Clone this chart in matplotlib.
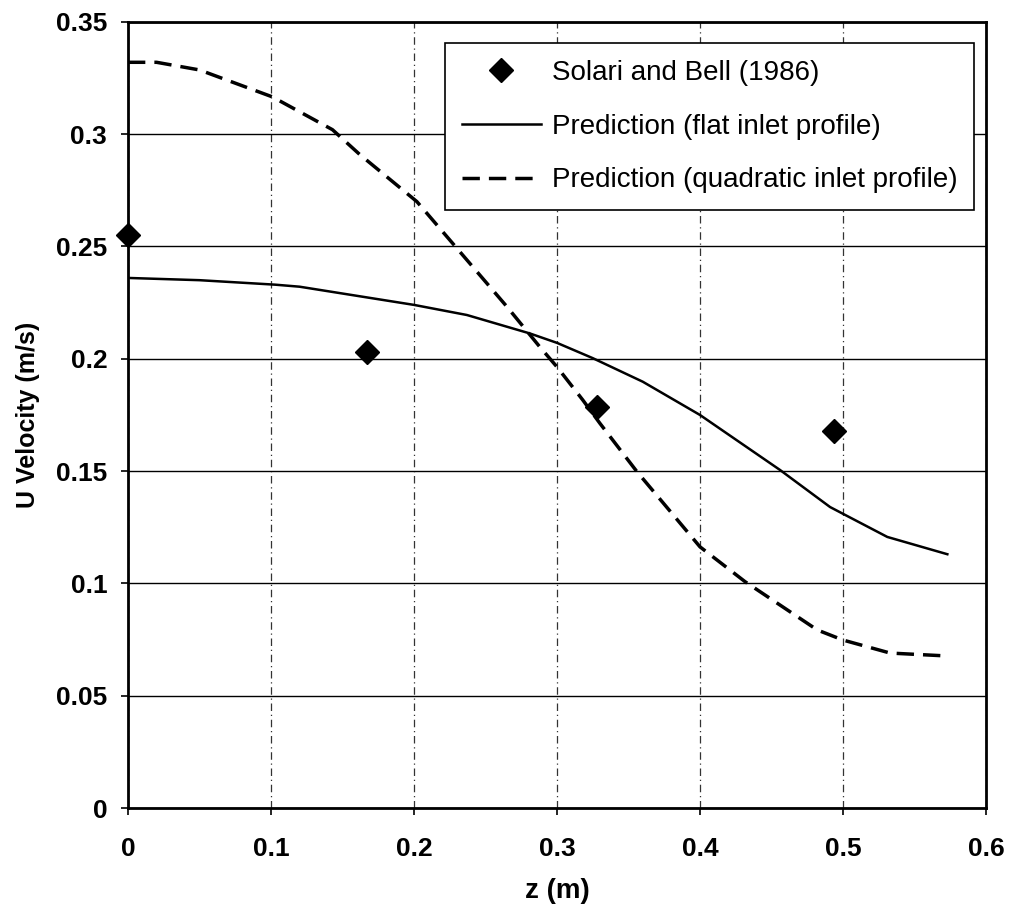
import numpy as np
import matplotlib
matplotlib.use("Agg")
import matplotlib.pyplot as plt

plt.rcParams["font.family"] = ["Liberation Sans", "DejaVu Sans"]

# measured velocities (Solari and Bell, 1986)
z_exp = [0.0, 0.167, 0.328, 0.494]
u_exp = [0.255, 0.203, 0.1785, 0.168]

# prediction with flat inlet profile
z_flat = [0.0, 0.05, 0.103, 0.12, 0.20, 0.237, 0.281, 0.30, 0.325, 0.36,
          0.40, 0.456, 0.491, 0.531, 0.573]
u_flat = [0.236, 0.235, 0.233, 0.2321, 0.224, 0.2195, 0.2113, 0.2071, 0.2003,
          0.1898, 0.175, 0.1505, 0.134, 0.1207, 0.113]

# prediction with quadratic inlet profile
z_quad = [0.0, 0.02, 0.05, 0.101, 0.143, 0.162, 0.202, 0.228, 0.265, 0.288,
          0.30, 0.318, 0.33, 0.356, 0.40, 0.4315, 0.482, 0.50, 0.533, 0.573]
u_quad = [0.332, 0.332, 0.3286, 0.3166, 0.302, 0.291, 0.270, 0.2507, 0.2232,
          0.2053, 0.1964, 0.1817, 0.1713, 0.1497, 0.1163, 0.1008, 0.0793,
          0.0748, 0.069, 0.0677]

fig = plt.figure(figsize=(10.10, 9.11), dpi=100)
ax = fig.add_axes([0.1267, 0.113, 0.8495, 0.863])

ax.plot(z_exp, u_exp, linestyle="none", marker="D", markersize=12.5,
        color="black", label="Solari and Bell (1986)", clip_on=False, zorder=5)
ax.plot(z_flat, u_flat, color="black", linewidth=1.8,
        label="Prediction (flat inlet profile)")
ax.plot(z_quad, u_quad, color="black", linewidth=2.5, dashes=(5, 2.6),
        label="Prediction (quadratic inlet profile)")

ax.set_xlim(0, 0.6)
ax.set_ylim(0, 0.35)
ax.set_xticks(np.arange(0, 0.61, 0.1))
ax.set_yticks(np.arange(0, 0.351, 0.05))
ax.set_xticklabels(["0", "0.1", "0.2", "0.3", "0.4", "0.5", "0.6"])
ax.set_yticklabels(["0", "0.05", "0.1", "0.15", "0.2", "0.25", "0.3", "0.35"])

for lab in ax.get_xticklabels() + ax.get_yticklabels():
    lab.set_fontsize(19)
    lab.set_fontweight("bold")
ax.tick_params(axis="both", direction="out", length=5, width=1.2, color="black")
ax.tick_params(axis="x", pad=16)
ax.tick_params(axis="y", pad=10)

# grid: solid horizontal lines, broken vertical ones
ax.yaxis.grid(True, color="black", linewidth=1.0)
ax.xaxis.grid(True, color="#333333", linewidth=0.9, linestyle=(0, (6, 3, 1, 3)))
ax.set_axisbelow(True)

for s in ax.spines.values():
    s.set_linewidth(2.0)
    s.set_color("black")

ax.set_xlabel("z (m)", fontsize=20, fontweight="bold", labelpad=12)
ax.set_ylabel("U Velocity (m/s)", fontsize=18, fontweight="bold", labelpad=11)

leg = ax.legend(loc="upper left", bbox_to_anchor=(0.3695, 0.973),
                borderaxespad=0, fontsize=20, frameon=True, fancybox=False,
                framealpha=1, edgecolor="black", handlelength=2.85,
                handletextpad=0.4, labelspacing=1.0, borderpad=0.6,
                markerscale=1.0)
leg.get_frame().set_linewidth(1.2)
leg.set_zorder(10)

fig.savefig("out.png", dpi=100)
